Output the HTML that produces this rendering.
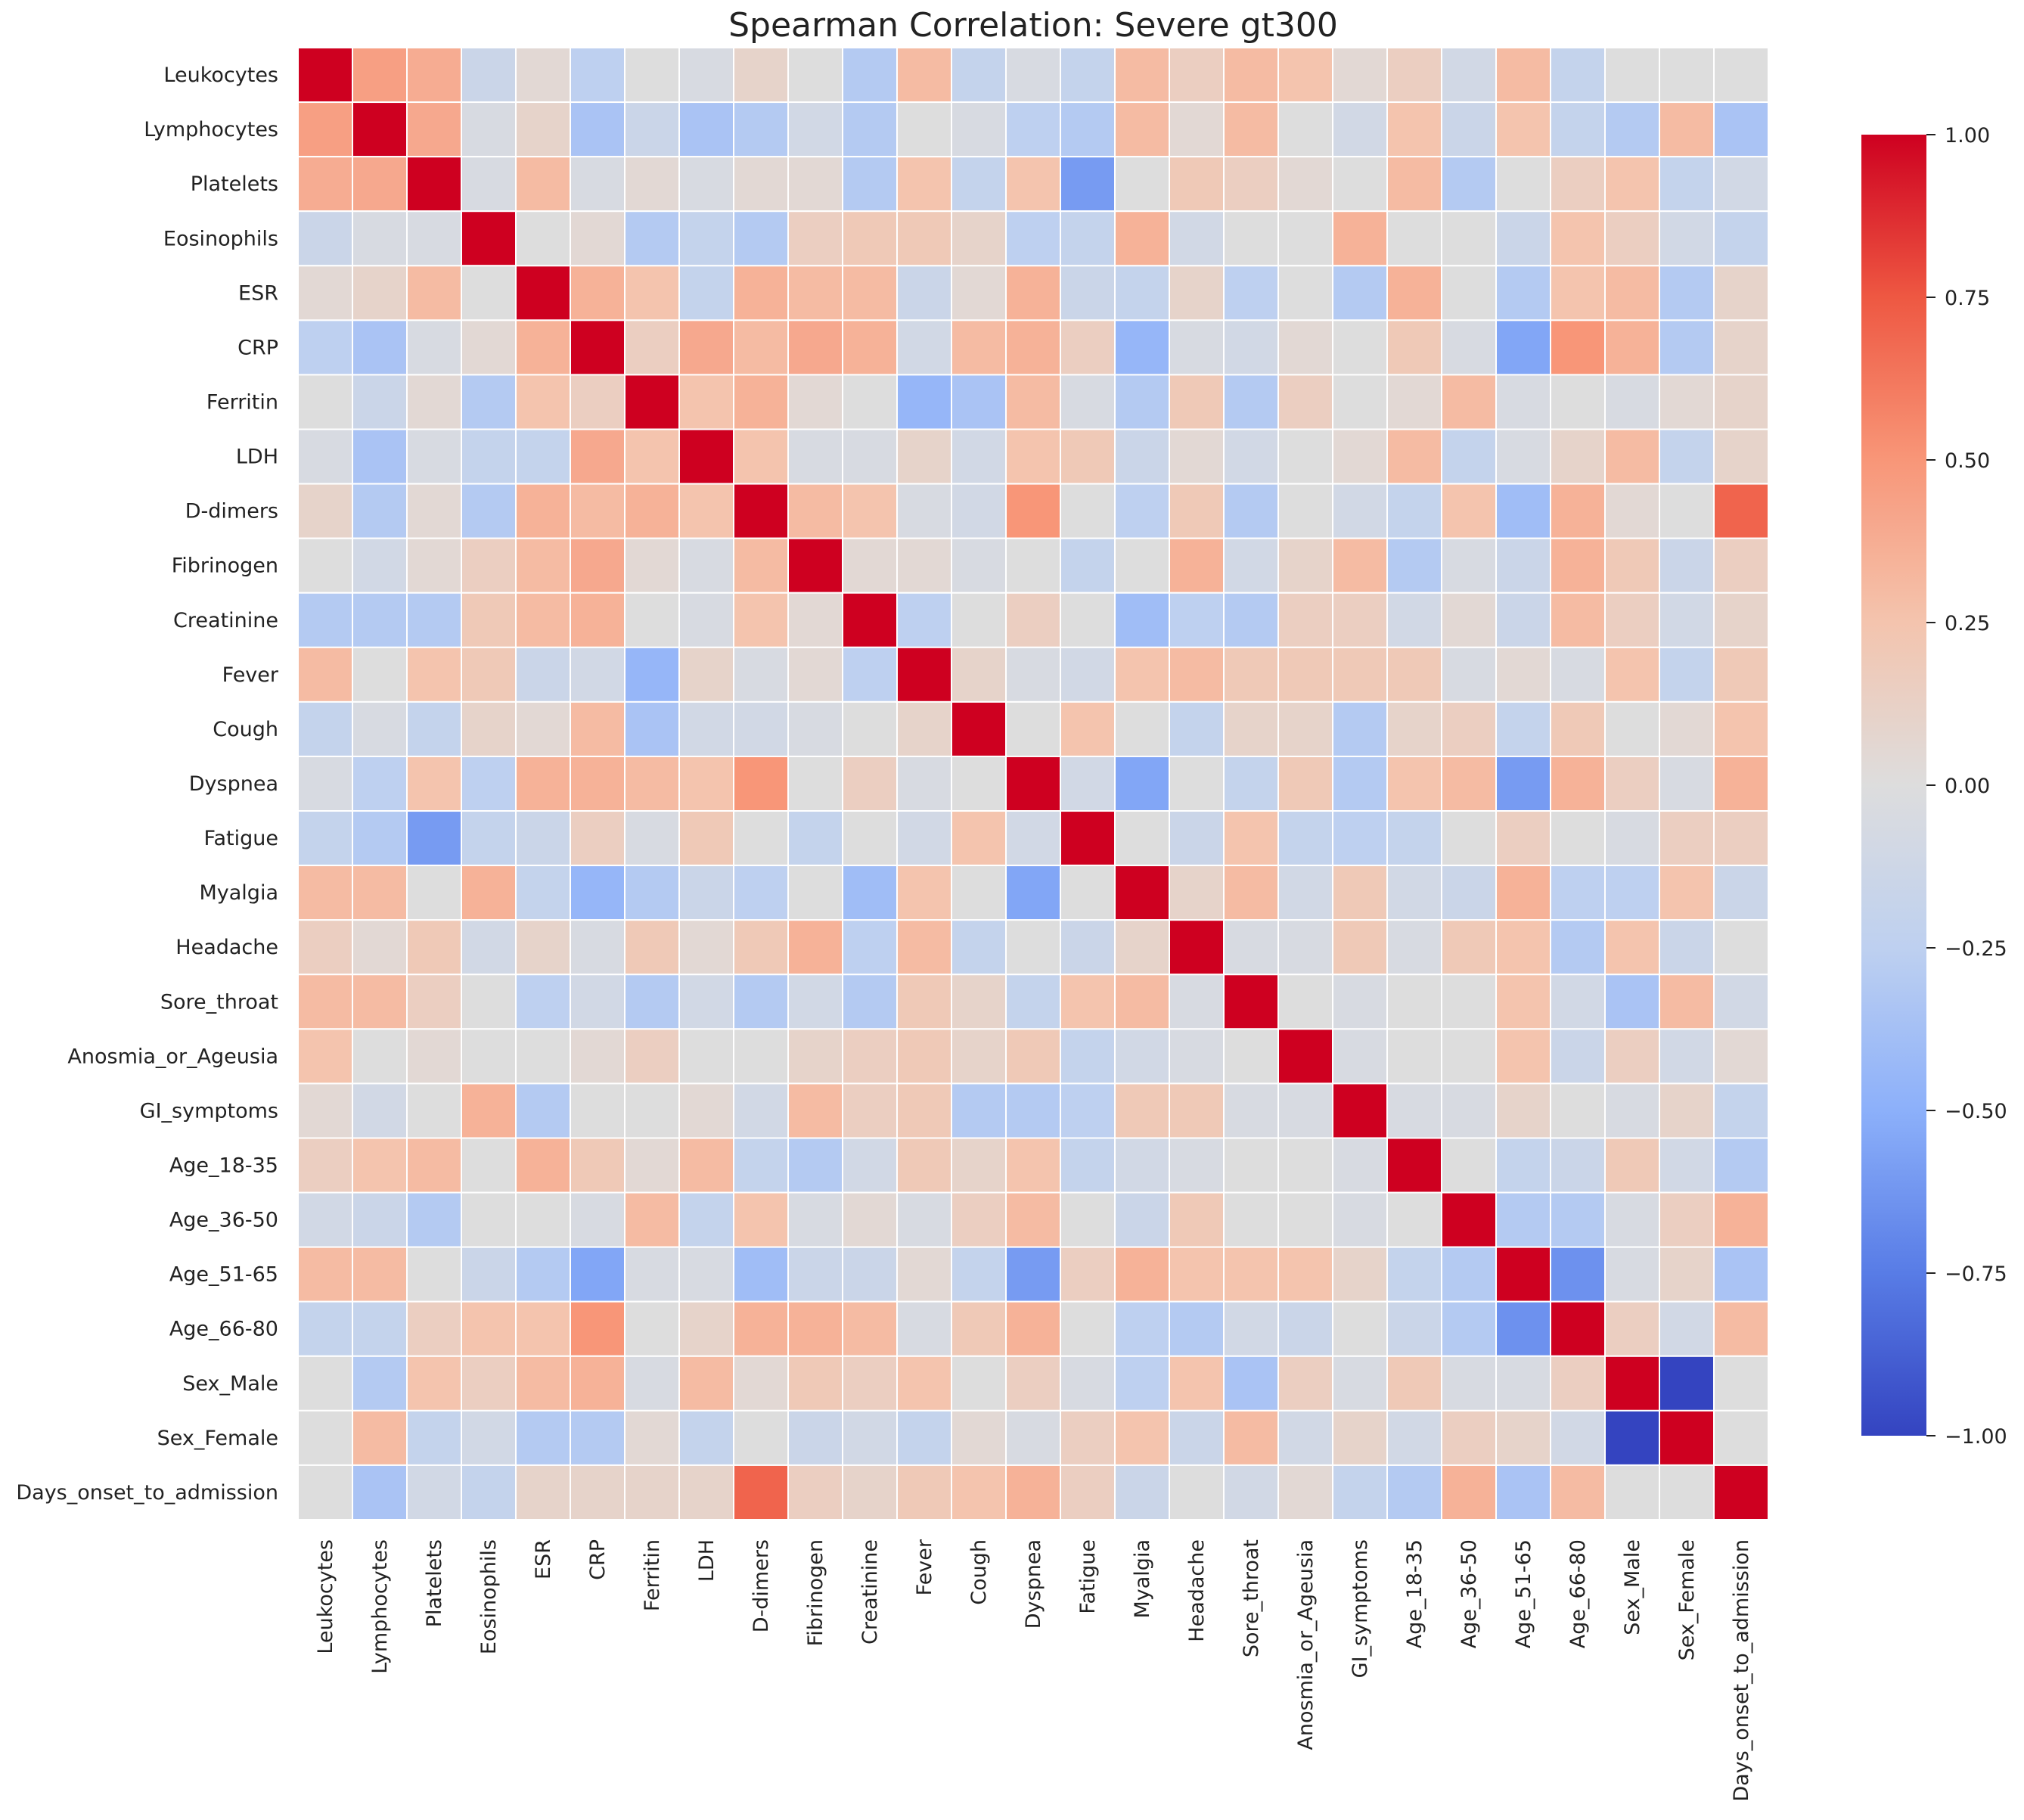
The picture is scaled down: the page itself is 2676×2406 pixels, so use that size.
<!DOCTYPE html>
<html><head><meta charset="utf-8"><style>
html,body{margin:0;padding:0;background:#fff;}
svg{display:block;font-family:"DejaVu Sans","Liberation Sans",sans-serif;}
</style></head><body>
<svg id="chart" width="2676" height="2406" viewBox="0 0 2676 2406" xmlns="http://www.w3.org/2000/svg">
<text x="1366" y="48" text-anchor="middle" font-size="44" fill="#222">Spearman Correlation: Severe gt300</text>
<g id="cells"></g>
<g id="ylabels"></g>
<g id="xlabels"></g>
<defs><linearGradient id="cbgrad" x1="0" y1="1" x2="0" y2="0"></linearGradient></defs>
<rect id="cbar"></rect>
<g id="cbticks"></g>
</svg>
<script>
const variables = ["Leukocytes","Lymphocytes","Platelets","Eosinophils","ESR","CRP","Ferritin","LDH","D-dimers","Fibrinogen","Creatinine","Fever","Cough","Dyspnea","Fatigue","Myalgia","Headache","Sore_throat","Anosmia_or_Ageusia","GI_symptoms","Age_18-35","Age_36-50","Age_51-65","Age_66-80","Sex_Male","Sex_Female","Days_onset_to_admission"];
const r00=[1,.45,.38,-.15,.05,-.25,0,-.05,.1,0,-.3,.3,-.2,-.05,-.2,.3,.15,.3,.25,.05,.15,-.1,.3,-.2,0,0,0];
const r01=[.45,1,.4,-.05,.1,-.35,-.15,-.35,-.3,-.1,-.3,0,-.05,-.25,-.3,.3,.05,.3,0,-.1,.25,-.15,.25,-.2,-.3,.3,-.35];
const r02=[.38,.4,1,-.05,.3,-.05,.05,-.05,.05,.05,-.3,.25,-.2,.25,-.6,0,.2,.15,.05,0,.3,-.3,0,.15,.25,-.2,-.1];
const r03=[-.15,-.05,-.05,1,0,.05,-.3,-.2,-.3,.15,.2,.2,.1,-.25,-.2,.35,-.1,0,0,.35,0,0,-.15,.25,.15,-.1,-.2];
const r04=[.05,.1,.3,0,1,.35,.25,-.2,.35,.3,.3,-.15,.05,.35,-.15,-.2,.1,-.25,0,-.3,.35,0,-.3,.25,.3,-.3,.1];
const r05=[-.25,-.35,-.05,.05,.35,1,.15,.4,.3,.4,.35,-.1,.3,.35,.15,-.45,-.05,-.1,.05,0,.2,-.05,-.55,.5,.35,-.3,.1];
const r06=[0,-.15,.05,-.3,.25,.15,1,.25,.35,.05,0,-.45,-.35,.3,-.05,-.3,.2,-.3,.15,0,.05,.3,-.05,0,-.05,.05,.1];
const r07=[-.05,-.35,-.05,-.2,-.2,.4,.25,1,.25,-.05,-.05,.1,-.1,.25,.2,-.15,.05,-.1,0,.05,.3,-.2,-.05,.1,.3,-.2,.1];
const r08=[.1,-.3,.05,-.3,.35,.3,.35,.25,1,.3,.25,-.05,-.1,.5,0,-.25,.2,-.3,0,-.1,-.2,.25,-.4,.35,.05,0,.7];
const r09=[0,-.1,.05,.15,.3,.4,.05,-.05,.3,1,.05,.05,-.05,0,-.2,0,.35,-.1,.1,.3,-.3,-.05,-.15,.35,.2,-.15,.15];
const r10=[-.3,-.3,-.3,.2,.3,.35,0,-.05,.25,.05,1,-.25,0,.15,0,-.4,-.25,-.3,.15,.15,-.1,.05,-.15,.3,.15,-.1,.1];
const r11=[.3,0,.25,.2,-.15,-.1,-.45,.1,-.05,.05,-.25,1,.1,-.05,-.1,.25,.3,.2,.2,.2,.2,-.05,.05,-.05,.25,-.2,.2];
const r12=[-.2,-.05,-.2,.1,.05,.3,-.35,-.1,-.1,-.05,0,.1,1,0,.25,0,-.2,.1,.1,-.3,.1,.15,-.2,.2,0,.05,.25];
const r13=[-.05,-.25,.25,-.25,.35,.35,.3,.25,.5,0,.15,-.05,0,1,-.1,-.55,0,-.2,.2,-.3,.25,.3,-.6,.35,.15,-.05,.35];
const r14=[-.2,-.3,-.6,-.2,-.15,.15,-.05,.2,0,-.2,0,-.1,.25,-.1,1,0,-.15,.25,-.2,-.25,-.2,0,.15,0,-.05,.15,.15];
const r15=[.3,.3,0,.35,-.2,-.45,-.3,-.15,-.25,0,-.4,.25,0,-.55,0,1,.1,.3,-.1,.2,-.1,-.15,.35,-.25,-.25,.25,-.15];
const r16=[.15,.05,.2,-.1,.1,-.05,.2,.05,.2,.35,-.25,.3,-.2,0,-.15,.1,1,-.05,-.05,.2,-.05,.2,.25,-.3,.25,-.15,0];
const r17=[.3,.3,.15,0,-.25,-.1,-.3,-.1,-.3,-.1,-.3,.2,.1,-.2,.25,.3,-.05,1,0,-.05,0,0,.25,-.1,-.35,.3,-.1];
const r18=[.25,0,.05,0,0,.05,.15,0,0,.1,.15,.2,.1,.2,-.2,-.1,-.05,0,1,-.05,0,0,.25,-.15,.15,-.1,.05];
const r19=[.05,-.1,0,.35,-.3,0,0,.05,-.1,.3,.15,.2,-.3,-.3,-.25,.2,.2,-.05,-.05,1,-.05,-.05,.1,0,-.05,.1,-.2];
const r20=[.15,.25,.3,0,.35,.2,.05,.3,-.2,-.3,-.1,.2,.1,.25,-.2,-.1,-.05,0,0,-.05,1,0,-.2,-.15,.2,-.1,-.3];
const r21=[-.1,-.15,-.3,0,0,-.05,.3,-.2,.25,-.05,.05,-.05,.15,.3,0,-.15,.2,0,0,-.05,0,1,-.3,-.3,-.05,.15,.35];
const r22=[.3,.3,0,-.15,-.3,-.55,-.05,-.05,-.4,-.15,-.15,.05,-.2,-.6,.15,.35,.25,.25,.25,.1,-.2,-.3,1,-.65,-.05,.1,-.35];
const r23=[-.2,-.2,.15,.25,.25,.5,0,.1,.35,.35,.3,-.05,.2,.35,0,-.25,-.3,-.1,-.15,0,-.15,-.3,-.65,1,.15,-.1,.3];
const r24=[0,-.3,.25,.15,.3,.35,-.05,.3,.05,.2,.15,.25,0,.15,-.05,-.25,.25,-.35,.15,-.05,.2,-.05,-.05,.15,1,-1,0];
const r25=[0,.3,-.2,-.1,-.3,-.3,.05,-.2,0,-.15,-.1,-.2,.05,-.05,.15,.25,-.15,.3,-.1,.1,-.1,.15,.1,-.1,-1,1,0];
const r26=[0,-.35,-.1,-.2,.1,.1,.1,.1,.7,.15,.1,.2,.25,.35,.15,-.15,0,-.1,.05,-.2,-.3,.35,-.35,.3,0,0,1];
const matrix=[r00,r01,r02,r03,r04,r05,r06,r07,r08,r09,r10,r11,r12,r13,r14,r15,r16,r17,r18,r19,r20,r21,r22,r23,r24,r25,r26];
const cbTickValues=[1,.75,.5,.25,0,-.25,-.5,-.75,-1];
const cbTickLabels=["1.00","0.75","0.50","0.25","0.00","\u22120.25","\u22120.50","\u22120.75","\u22121.00"];

const NS="http://www.w3.org/2000/svg";
const X0=394,Y0=63,W=1944,H=1946;
const n=variables.length, cw=W/n, ch=H/n;
const xPos=i=>X0+i*cw, yPos=i=>Y0+i*ch;
const CB={x:2461,y:178,w:86,h:1720};
const cbY=v=>CB.y+(1-v)/2*CB.h;
const stops=[[-1,[52,68,192]],[-.75,[88,124,230]],[-.5,[140,176,250]],[-.25,[190,208,240]],[0,[221,221,221]],[.25,[244,196,174]],[.5,[248,150,120]],[.75,[238,88,66]],[1,[206,0,32]]];
function color(v){
  v=Math.max(-1,Math.min(1,v));
  for(let k=0;k<stops.length-1;k++){
    const a=stops[k],b=stops[k+1];
    if(v<=b[0]){const t=(v-a[0])/(b[0]-a[0]);
      const c=a[1].map((x,i)=>Math.round(x+(b[1][i]-x)*t));return `rgb(${c[0]},${c[1]},${c[2]})`;}
  }
  return 'rgb(206,0,32)';
}
function mk(tag,attrs,parent){const e=document.createElementNS(NS,tag);for(const k in attrs)e.setAttribute(k,attrs[k]);parent.appendChild(e);return e;}

const cells=document.getElementById('cells');
matrix.forEach((row,i)=>row.forEach((v,j)=>{
  const r=mk('rect',{x:xPos(j),y:yPos(i),width:cw,height:ch,fill:color(v),stroke:'#fff','stroke-width':2},cells);
  
  
}));
const yl=document.getElementById('ylabels'), xl=document.getElementById('xlabels');
variables.forEach((name,i)=>{
  const t=mk('text',{x:X0-26,y:yPos(i)+ch/2+9,'text-anchor':'end','font-size':27,fill:'#222'},yl);
  t.textContent=name;
  
  
  const cx=xPos(i)+cw/2+9, cy=Y0+H+26;
  const u=mk('text',{x:cx,y:cy,'text-anchor':'end','font-size':27,fill:'#222',transform:`rotate(-90 ${cx} ${cy})`},xl);
  u.textContent=name;
  
  
});
const g=document.getElementById('cbgrad');
for(let k=0;k<=40;k++){const v=-1+k/20;mk('stop',{offset:(k/40),'stop-color':color(v)},g);}
const cb=document.getElementById('cbar');
cb.setAttribute('x',CB.x);cb.setAttribute('y',CB.y);cb.setAttribute('width',CB.w);cb.setAttribute('height',CB.h);cb.setAttribute('fill','url(#cbgrad)');
const cbt=document.getElementById('cbticks');
cbTickValues.forEach((v,i)=>{
  const y=cbY(v);
  const l=mk('line',{x1:CB.x+CB.w,x2:CB.x+CB.w+12,y1:y,y2:y,stroke:'#222','stroke-width':2},cbt);
  
  
  const t=mk('text',{x:CB.x+CB.w+24,y:y+10,'font-size':27,fill:'#222'},cbt);
  t.textContent=cbTickLabels[i];
  
  
});
</script>
</body></html>
